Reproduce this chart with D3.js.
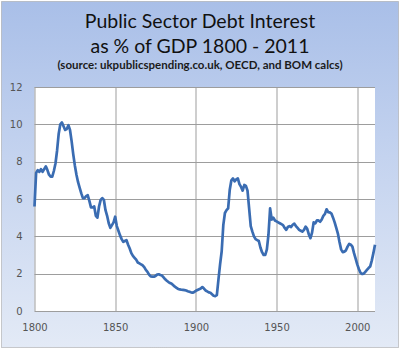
<!DOCTYPE html>
<html>
<head>
<meta charset="utf-8">
<script src="https://cdn.jsdelivr.net/npm/d3@7"></script>
<style>
  body { margin: 0; background: #fff; }
  text { font-family: "DejaVu Sans", Verdana, sans-serif; }
</style>
</head>
<body>
<div id="chart"></div>
<script>

// title lines
var titleLines = ["Public Sector Debt Interest", "as % of GDP 1800 - 2011"];
var subTitle = "(source: ukpublicspending.co.uk, OECD, and BOM calcs)";

// interest as % of GDP, one value per year from 1800
var startYear = 1800;
var interest = [
  5.6, 7.4, 7.55, 7.45, 7.6, 7.45, 7.6, 7.75, 7.55, 7.3,
  7.2, 7.2, 7.5, 7.9, 8.6, 9.5, 10.0, 10.1, 9.9, 9.7,
  9.75, 9.95, 9.7, 9.1, 8.4, 7.8, 7.3, 6.9, 6.6, 6.3,
  6.05, 6.05, 6.15, 6.2, 5.9, 5.55, 5.55, 5.6, 5.1, 5.0,
  5.6, 5.95, 6.05, 5.95, 5.4, 5.1, 4.7, 4.45, 4.6, 4.75,
  5.05, 4.55, 4.3, 4.05, 3.85, 3.7, 3.75, 3.8, 3.55, 3.35,
  3.1, 2.95, 2.85, 2.75, 2.6, 2.55, 2.5, 2.45, 2.35, 2.2,
  2.1, 1.95, 1.85, 1.84, 1.84, 1.88, 1.95, 1.97, 1.93, 1.9,
  1.8, 1.7, 1.62, 1.55, 1.5, 1.46, 1.38, 1.3, 1.24, 1.18,
  1.16, 1.14, 1.13, 1.12, 1.1, 1.06, 1.03, 1.0, 0.98, 1.02,
  1.08, 1.12, 1.16, 1.2, 1.28, 1.2, 1.1, 1.05, 1.0, 0.98,
  0.9, 0.82, 0.8, 0.85, 1.7, 2.5, 3.2, 4.6, 5.25, 5.4,
  5.5, 6.5, 7.0, 7.1, 6.95, 7.05, 7.1, 6.8, 6.65, 6.45,
  6.75, 6.7, 6.45, 5.5, 4.55, 4.25, 4.0, 3.85, 3.8, 3.75,
  3.4, 3.15, 3.0, 3.0, 3.3, 4.1, 5.5, 4.9, 5.0, 4.85,
  4.8, 4.75, 4.7, 4.65, 4.6, 4.45, 4.35, 4.5, 4.55, 4.5,
  4.62, 4.68, 4.55, 4.45, 4.35, 4.3, 4.25, 4.35, 4.52, 4.4,
  4.1, 3.9, 4.2, 4.75, 4.7, 4.85, 4.85, 4.78, 4.9, 5.1,
  5.2, 5.45, 5.3, 5.28, 5.22, 5.0, 4.75, 4.45, 4.15, 3.7,
  3.3, 3.15, 3.18, 3.25, 3.45, 3.6, 3.55, 3.45, 3.1, 2.8,
  2.5, 2.25, 2.05, 1.98, 2.0, 2.1, 2.2, 2.3, 2.38, 2.7,
  3.1, 3.55
];

var yTicks = [0, 2, 4, 6, 8, 10, 12];
var xTicks = [1800, 1850, 1900, 1950, 2000];

var W = 400, H = 349;
var margin = {top: 87, right: 25, bottom: 38, left: 34.5};
var width = W - margin.left - margin.right,
    height = H - margin.top - margin.bottom;

var svg = d3.select("#chart").append("svg")
    .attr("width", W)
    .attr("height", H);

// background gradient
var grad = svg.append("defs").append("linearGradient")
    .attr("id", "bg")
    .attr("x1", 0).attr("y1", 0).attr("x2", 0).attr("y2", 1);
grad.append("stop").attr("offset", "0%").attr("stop-color", "#a9bfe8");
grad.append("stop").attr("offset", "45%").attr("stop-color", "#c4d3ef");
grad.append("stop").attr("offset", "100%").attr("stop-color", "#e3eaf6");

svg.append("rect")
    .attr("x", 1.5).attr("y", 1.5)
    .attr("width", W - 3).attr("height", H - 3)
    .attr("fill", "url(#bg)")
    .attr("stroke", "#9a9a9a")
    .attr("stroke-dasharray", "1,1");

// titles
svg.selectAll(".title")
    .data(titleLines)
    .enter().append("text")
    .attr("class", "title")
    .attr("x", W / 2)
    .attr("y", function(d, i) { return 28 + i * 25; })
    .attr("text-anchor", "middle")
    .style("font-family", "Lato, 'Open Sans', sans-serif")
    .style("font-size", "19.5px")
    .style("font-weight", "normal")
    .style("fill", "#111")
    .text(function(d) { return d; });

svg.append("text")
    .attr("x", W / 2)
    .attr("y", 69)
    .attr("text-anchor", "middle")
    .style("font-family", "Lato, 'Open Sans', sans-serif")
    .style("font-size", "11.5px")
    .style("font-weight", "bold")
    .style("fill", "#1b1b1b")
    .text(subTitle);

var g = svg.append("g")
    .attr("transform", "translate(" + margin.left + "," + margin.top + ")");

g.append("rect")
    .attr("width", width)
    .attr("height", height)
    .attr("fill", "#fff");

var x = d3.scaleLinear()
    .domain([startYear, startYear + interest.length - 1])
    .range([0, width]);
var y = d3.scaleLinear()
    .domain([0, 12])
    .range([height, 0]);

// grid
g.selectAll(".hgrid")
    .data(yTicks)
    .enter().append("line")
    .attr("x1", 0).attr("x2", width)
    .attr("y1", function(d) { return Math.round(y(d)) + 0.5; })
    .attr("y2", function(d) { return Math.round(y(d)) + 0.5; })
    .style("stroke", "#9d9d9d")
    .style("stroke-width", "1px");

g.selectAll(".vgrid")
    .data(xTicks)
    .enter().append("line")
    .attr("x1", function(d) { return Math.round(x(d)) + 0.5; })
    .attr("x2", function(d) { return Math.round(x(d)) + 0.5; })
    .attr("y1", 0).attr("y2", height)
    .style("stroke", "#9d9d9d")
    .style("stroke-width", "1px");

// axes labels
var yAxis = g.append("g")
    .call(d3.axisLeft(y).tickValues(yTicks).tickSize(0).tickPadding(12));
var xAxis = g.append("g")
    .attr("transform", "translate(0," + height + ")")
    .call(d3.axisBottom(x).tickValues(xTicks).tickFormat(d3.format("d")).tickSize(0).tickPadding(13));
[yAxis, xAxis].forEach(function(a) {
    a.select(".domain").remove();
    a.selectAll("text")
        .style("font-family", "'DejaVu Sans', Verdana, sans-serif")
        .style("font-size", "10px")
        .style("fill", "#555");
});

// the series
var line = d3.line()
    .x(function(d, i) { return x(startYear + i); })
    .y(function(d) { return y(d); });

g.append("path")
    .datum(interest)
    .attr("d", line)
    .attr("fill", "none")
    .style("stroke", "#3a6cb2")
    .style("stroke-width", "2.7px")
    .style("stroke-linejoin", "round");

</script>
</body>
</html>
